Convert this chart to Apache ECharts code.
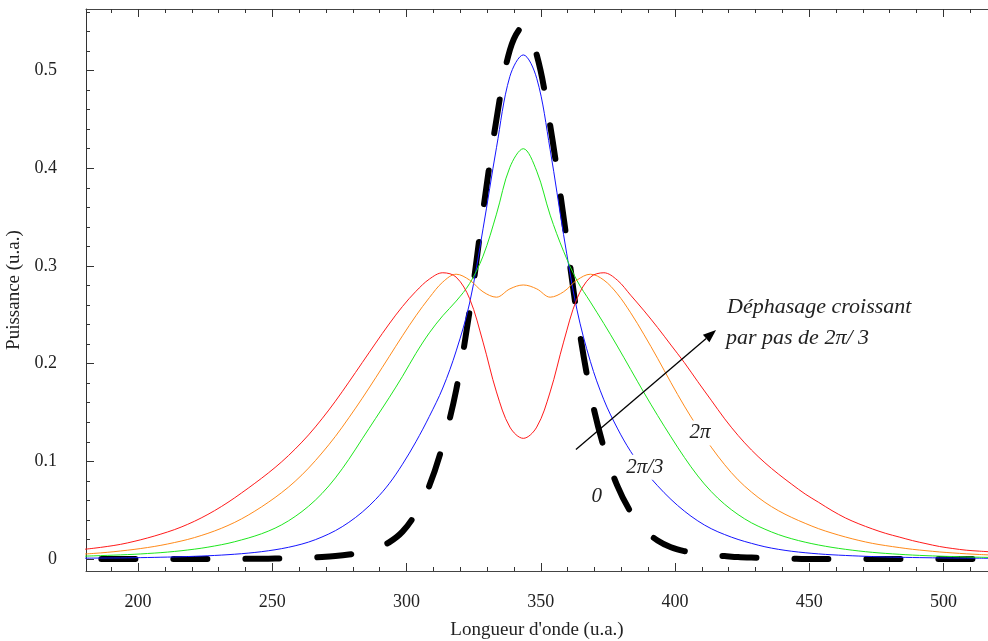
<!DOCTYPE html>
<html><head><meta charset="utf-8">
<script src="https://cdn.jsdelivr.net/npm/echarts@6/dist/echarts.min.js"></script>
<style>html,body{margin:0;padding:0;background:#fff}#c{width:988px;height:641px}</style>
</head><body><div id="c"></div>
<script>
// Longueur d'onde (u.a.)
const wavelength = [178.5,183.5,188.5,193.5,198.5,203.5,208.5,213.5,218.5,223.5,228.5,233.5,238.5,243.5,248.5,253.5,258.5,263.5,268.5,273.5,278.5,283.5,288.5,293.5,298.5,303.5,308.5,313.5,318.5,323.5,328.5,333.5,338.5,343.5,
  348.5,353.5,358.5,363.5,368.5,373.5,378.5,383.5,388.5,393.5,398.5,403.5,408.5,413.5,418.5,423.5,428.5,433.5,438.5,443.5,448.5,453.5,458.5,463.5,468.5,473.5,478.5,483.5,488.5,493.5,498.5,503.5,508.5,513.5,518.5];
// Puissance (u.a.) for each phase shift
const phase0 = [0,0,0,0,0,0,0,0,0,0,0,0,0.0001,0.0002,0.0003,0.0005,0.0008,0.0013,0.002,0.003,0.0045,0.0068,0.0105,0.017,0.028,0.047,0.075,0.117,0.173,0.254,0.356,0.450,0.521,0.545,
  0.516,0.444,0.350,0.250,0.170,0.114,0.075,0.048,0.030,0.019,0.012,0.008,0.0055,0.004,0.003,0.002,0.0014,0.001,0.0006,0.0003,0,0,0,0,0,0,0,0,0,0,0,0,0,0,0];
const phase2pi3 = [0.0008,0.0009,0.001,0.0011,0.0013,0.0015,0.0018,0.0021,0.0025,0.003,0.0036,0.0044,0.0054,0.0067,0.0084,0.0106,0.0135,0.0173,0.0225,0.029,0.0375,0.048,0.061,0.077,0.097,0.120,0.146,0.175,0.213,0.262,0.338,0.421,0.494,0.516,
  0.492,0.419,0.332,0.255,0.202,0.163,0.134,0.110,0.091,0.075,0.061,0.049,0.039,0.031,0.025,0.020,0.016,0.0125,0.0099,0.0079,0.0064,0.0052,0.0043,0.0036,0.003,0.0025,0.0021,0.0018,0.0015,0.0013,0.0011,0.001,0.0009,0.0008,0.0007];
const phase4pi3 = [0.0028,0.0032,0.0037,0.0042,0.0048,0.0056,0.0065,0.0077,0.0092,0.011,0.0133,0.016,0.0195,0.0235,0.0285,0.035,0.0435,0.054,0.067,0.083,0.102,0.123,0.144,0.165,0.187,0.2105,0.2315,0.249,0.264,0.282,0.310,0.353,0.401,0.420,
  0.397,0.352,0.315,0.285,0.263,0.241,0.218,0.194,0.170,0.147,0.125,0.104,0.085,0.069,0.056,0.0455,0.037,0.0305,0.025,0.0207,0.0172,0.0143,0.0119,0.0099,0.0082,0.0068,0.0057,0.0048,0.004,0.0034,0.0029,0.0025,0.0021,0.0018,0.0015];
const phase2pi = [0.0048,0.0057,0.0068,0.0082,0.0098,0.0117,0.014,0.0168,0.020,0.024,0.0287,0.0343,0.041,0.049,0.058,0.068,0.0795,0.093,0.1085,0.1255,0.1445,0.1645,0.1855,0.207,0.2285,0.249,0.2675,0.2835,0.2915,0.2855,0.2735,0.268,0.2765,0.2805,
  0.2765,0.268,0.2735,0.2855,0.2915,0.2855,0.2715,0.252,0.2295,0.2055,0.1805,0.1565,0.1345,0.1145,0.0965,0.081,0.0685,0.058,0.0495,0.0425,0.0365,0.031,0.0265,0.0225,0.019,0.016,0.0137,0.0117,0.0099,0.0085,0.0072,0.0062,0.0053,0.0046,0.004];
const phase8pi3 = [0.0095,0.011,0.0128,0.015,0.018,0.0215,0.0255,0.030,0.0355,0.042,0.0495,0.058,0.0675,0.0775,0.088,0.0995,0.1125,0.127,0.1435,0.1615,0.181,0.201,0.221,0.2405,0.2585,0.274,0.2865,0.293,0.2885,0.2665,0.222,0.171,0.135,0.1235,
  0.135,0.171,0.222,0.2665,0.2885,0.293,0.2855,0.270,0.254,0.237,0.219,0.201,0.1815,0.1625,0.1435,0.1265,0.1115,0.0985,0.087,0.0765,0.0665,0.058,0.0495,0.042,0.036,0.0308,0.0262,0.0225,0.0188,0.0157,0.0128,0.0107,0.009,0.008,0.0072];
// tick labels
const xMajorTicks = [200,250,300,350,400,450,500];
const yMajorTicks = [0,0.1,0.2,0.3,0.4,0.5];

const xMinorTicks = [];
for (let v = 190; v <= 510; v += 10) if (v % 50 !== 0) xMinorTicks.push(v);
const yMinorTicks = [];
for (let k = 1; k <= 28; k++) if (k % 5 !== 0) yMinorTicks.push(Math.round(k * 2) / 100);

const FONT = '"Liberation Serif", "DejaVu Serif", serif';
const X_MIN = 180.6, X_MAX = 516.6, Y_MIN = -0.0123, Y_MAX = 0.563;
const pairs = ys => wavelength.map((x, i) => [x, ys[i]]);

function xAx(pos, ticks, len, showLine, labels) {
  return {
    type: 'value', position: pos, min: X_MIN, max: X_MAX,
    axisLine: { show: showLine, onZero: false, lineStyle: { color: '#444', width: 1 } },
    axisTick: { show: true, inside: true, length: len, customValues: ticks, lineStyle: { color: '#333', width: 1 } },
    axisLabel: labels ? { show: true, customValues: xMajorTicks, margin: 22, color: '#222', fontFamily: FONT, fontSize: 18 } : { show: false },
    splitLine: { show: false }
  };
}
function yAx(ticks, len, showLine, labels) {
  return {
    type: 'value', position: 'left', min: Y_MIN, max: Y_MAX,
    axisLine: { show: showLine, onZero: false, lineStyle: { color: '#333', width: 1 } },
    axisTick: { show: true, inside: true, length: len, customValues: ticks, lineStyle: { color: '#333', width: 1 } },
    axisLabel: labels ? { show: true, customValues: yMajorTicks, margin: 29, color: '#222', fontFamily: FONT, fontSize: 18,
      formatter: v => (Math.abs(v) < 1e-9 ? '0' : v.toFixed(1)) } : { show: false },
    splitLine: { show: false }
  };
}

const xa0 = xAx('bottom', xMajorTicks, 8, true, true);
xa0.name = "Longueur d'onde (u.a.)";
xa0.nameLocation = 'middle';
xa0.nameGap = 50;
xa0.nameTextStyle = { fontFamily: FONT, fontSize: 19, color: '#222' };
const ya0 = yAx(yMajorTicks, 8, true, true);
ya0.name = 'Puissance (u.a.)';
ya0.nameLocation = 'middle';
ya0.nameGap = 54;
ya0.nameTextStyle = { fontFamily: FONT, fontSize: 19, color: '#222' };

function line(data, color, width, extra) {
  return Object.assign({
    type: 'line', data: pairs(data), xAxisIndex: 0, yAxisIndex: 0,
    showSymbol: false, symbol: 'none', smooth: 0.35, silent: true,
    lineStyle: { color: color, width: width }
  }, extra || {});
}

const option = {
  animation: false,
  backgroundColor: '#fff',
  grid: { left: 86, right: 0, top: 9, bottom: 70, containLabel: false, outerBoundsMode: 'none' },
  xAxis: [xa0, xAx('bottom', xMinorTicks, 4, false, false), xAx('top', xMajorTicks, 8, true, false), xAx('top', xMinorTicks, 4, false, false)],
  yAxis: [ya0, yAx(yMinorTicks, 4, false, false)],
  series: [
    line(phase0, '#000', 6, { lineStyle: { color: '#000', width: 6, type: [34, 38], dashOffset: 51, cap: 'round', join: 'round' }, z: 1 }),
    line(phase2pi3, '#1414ff', 1, { z: 2 }),
    line(phase4pi3, '#1ee61e', 1, { z: 2 }),
    line(phase2pi, '#ff8a1a', 1, { z: 2 }),
    line(phase8pi3, '#ff1a1a', 1, { z: 2 })
  ]
};

const chart = echarts.init(document.getElementById('c'));
chart.setOption(option);

const P = (x, y) => chart.convertToPixel({ xAxisIndex: 0, yAxisIndex: 0 }, [x, y]);
const a0 = P(363.1, 0.112), a1 = P(415.3, 0.2344);
const dx = a1[0] - a0[0], dy = a1[1] - a0[1], L = Math.hypot(dx, dy);
const ux = dx / L, uy = dy / L, hl = 13, hw = 5;
const bx = a1[0] - ux * hl, by = a1[1] - uy * hl;
const italic = 'italic 21px ' + FONT;
function label(x, y, text, align) {
  const p = P(x, y);
  return { type: 'text', z: 100, x: p[0], y: p[1],
    style: { text: text, font: italic, fill: '#222', align: align || 'center', verticalAlign: 'middle',
      backgroundColor: '#fff', padding: [2, 2] } };
}
const t1 = P(419.4, 0.258), t2 = P(419.0, 0.226);
chart.setOption({
  graphic: [
    { type: 'line', z: 90, shape: { x1: a0[0], y1: a0[1], x2: bx, y2: by }, style: { stroke: '#000', lineWidth: 1.3 } },
    { type: 'polygon', z: 90, shape: { points: [[a1[0], a1[1]], [bx - uy * hw, by + ux * hw], [bx + uy * hw, by - ux * hw]] }, style: { fill: '#000' } },
    label(409.3, 0.129, '2π'),
    label(388.8, 0.094, '2π/3'),
    label(370.9, 0.0635, '0'),
    { type: 'text', z: 100, x: t1[0], y: t1[1],
      style: { text: 'Déphasage croissant', font: 'italic 22px ' + FONT, fill: '#222', align: 'left', verticalAlign: 'middle' } },
    { type: 'text', z: 100, x: t2[0], y: t2[1],
      style: { text: 'par pas de 2π/ 3', font: 'italic 22px ' + FONT, fill: '#222', align: 'left', verticalAlign: 'middle' } }
  ]
});
</script></body></html>
